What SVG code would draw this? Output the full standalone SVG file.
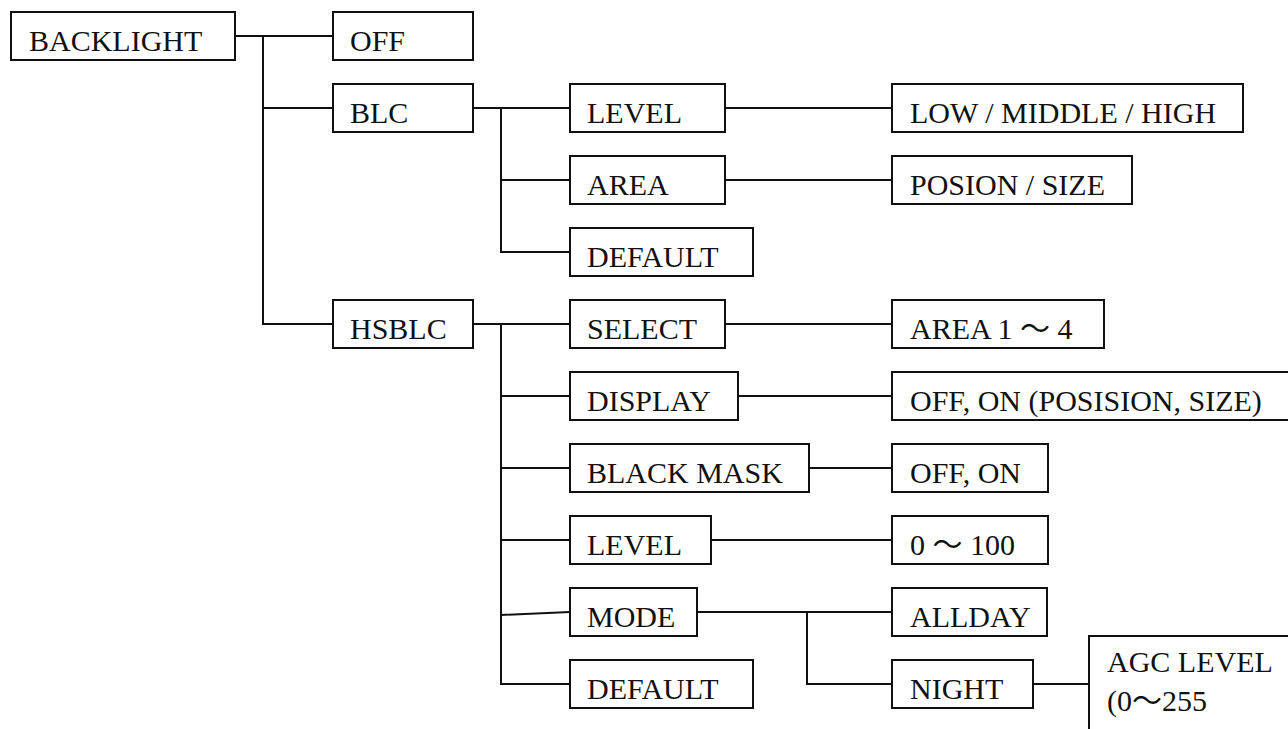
<svg xmlns="http://www.w3.org/2000/svg" width="1288" height="729" viewBox="0 0 1288 729">
<style>
.box{fill:#fff;stroke:#111;stroke-width:2}
.ln{fill:none;stroke:#111;stroke-width:2}
text{font-family:"Liberation Serif","Noto Sans CJK JP",serif;font-size:30px;fill:#111}
</style>
<rect width="1288" height="729" fill="#fff"/>
<g id="connectors">
<path class="ln" d="M235,36H333 M263,36V324H333 M263,108H333"/>
<path class="ln" d="M473,108H570 M501,108V252H570 M501,180H570 M725,108H892 M725,180H892"/>
<path class="ln" d="M473,324H570 M501,324V684H570 M501,396H570 M501,468H570 M501,540H570 M501,615L570,612"/>
<path class="ln" d="M725,324H892 M738,396H892 M809,468H892 M711,540H892 M697,612H892 M807,612V684H892 M1033,684H1089"/>
</g>
<g id="n-backlight"><rect class="box" x="11" y="12" width="224" height="48"/><text x="29" y="51">BACKLIGHT</text></g>
<g id="n-off"><rect class="box" x="333" y="12" width="140" height="48"/><text x="350" y="51">OFF</text></g>
<g id="n-blc"><rect class="box" x="333" y="84" width="140" height="48"/><text x="350" y="123">BLC</text></g>
<g id="n-hsblc"><rect class="box" x="333" y="300" width="140" height="48"/><text x="350" y="339">HSBLC</text></g>
<g id="n-blc-level"><rect class="box" x="570" y="84" width="155" height="48"/><text x="587" y="123">LEVEL</text></g>
<g id="n-blc-area"><rect class="box" x="570" y="156" width="155" height="48"/><text x="587" y="195">AREA</text></g>
<g id="n-blc-default"><rect class="box" x="570" y="228" width="183" height="48"/><text x="587" y="267">DEFAULT</text></g>
<g id="n-lmh"><rect class="box" x="892" y="84" width="351" height="48"/><text x="910" y="123">LOW / MIDDLE / HIGH</text></g>
<g id="n-possize"><rect class="box" x="892" y="156" width="240" height="48"/><text x="910" y="195">POSION / SIZE</text></g>
<g id="n-select"><rect class="box" x="570" y="300" width="155" height="48"/><text x="587" y="339">SELECT</text></g>
<g id="n-display"><rect class="box" x="570" y="372" width="168" height="48"/><text x="587" y="411">DISPLAY</text></g>
<g id="n-blackmask"><rect class="box" x="570" y="444" width="239" height="48"/><text x="587" y="483">BLACK MASK</text></g>
<g id="n-hs-level"><rect class="box" x="570" y="516" width="141" height="48"/><text x="587" y="555">LEVEL</text></g>
<g id="n-mode"><rect class="box" x="570" y="588" width="127" height="48"/><text x="587" y="627">MODE</text></g>
<g id="n-hs-default"><rect class="box" x="570" y="660" width="183" height="48"/><text x="587" y="699">DEFAULT</text></g>
<g id="n-area14"><rect class="box" x="892" y="300" width="212" height="48"/><text x="910" y="339">AREA 1 ～ 4</text></g>
<g id="n-offon-pos"><rect class="box" x="892" y="372" width="410" height="48"/><text x="910" y="411">OFF, ON (POSISION, SIZE)</text></g>
<g id="n-offon"><rect class="box" x="892" y="444" width="156" height="48"/><text x="910" y="483">OFF, ON</text></g>
<g id="n-0-100"><rect class="box" x="892" y="516" width="156" height="48"/><text x="910" y="555">0 ～ 100</text></g>
<g id="n-allday"><rect class="box" x="892" y="588" width="155" height="48"/><text x="910" y="627">ALLDAY</text></g>
<g id="n-night"><rect class="box" x="892" y="660" width="141" height="48"/><text x="910" y="699">NIGHT</text></g>
<g id="n-agc"><rect class="box" x="1089" y="636" width="220" height="110"/><text x="1107" y="672">AGC LEVEL</text><text x="1107" y="711">(0～255</text></g>
</svg>
